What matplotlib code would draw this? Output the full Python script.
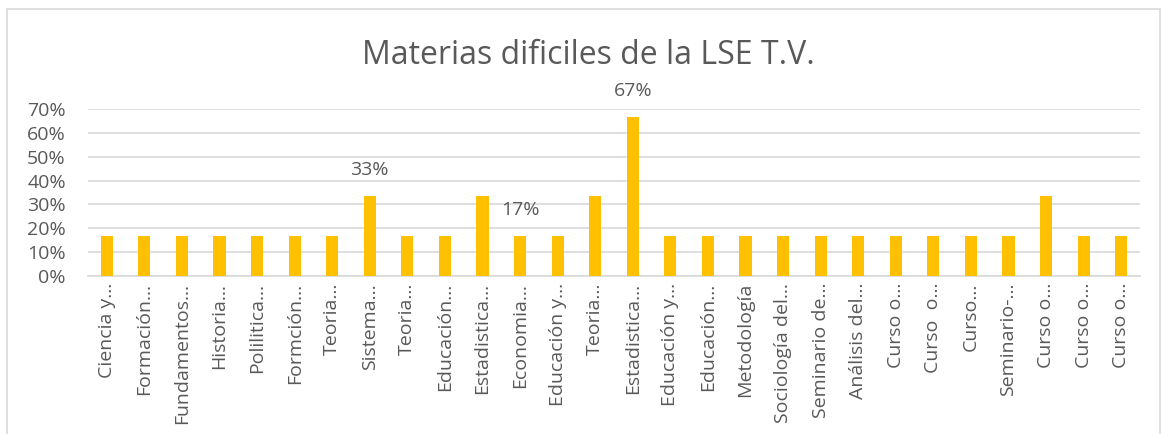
import matplotlib
matplotlib.use("Agg")
import matplotlib.pyplot as plt
from matplotlib.patches import Rectangle
from matplotlib.ticker import PercentFormatter

categories = ["Ciencia y…", "Formación…", "Fundamentos…", "Historia…", "Polilitica…",
              "Formción…", "Teoria…", "Sistema…", "Teoria…", "Educación…",
              "Estadistica…", "Economia…", "Educación y…", "Teoria…", "Estadistica…",
              "Educación y…", "Educación…", "Metodología", "Sociología del…", "Seminario de…",
              "Análisis del…", "Curso o…", "Curso  o…", "Curso…", "Seminario-…",
              "Curso o…", "Curso o…", "Curso o…"]
values = [16.67, 16.67, 16.67, 16.67, 16.67, 16.67, 16.67, 33.33, 16.67, 16.67,
          33.33, 16.67, 16.67, 33.33, 66.67, 16.67, 16.67, 16.67, 16.67, 16.67,
          16.67, 16.67, 16.67, 16.67, 16.67, 33.33, 16.67, 16.67]
labeled = [7, 11, 14]
title = "Materias dificiles de la LSE T.V."

plt.rcParams['font.family'] = ['Open Sans', 'DejaVu Sans']
gray = '#595959'

fig = plt.figure(figsize=(11.61, 4.34), dpi=100)
fig.patches.append(Rectangle((7/1161, -0.05), (1160-7)/1161, 1 - 9/434 + 0.05,
                             transform=fig.transFigure, fill=False,
                             edgecolor='#d9d9d9', linewidth=1.2))
ax = fig.add_axes([88/1161, 1 - 276/434, (1140 - 88)/1161, (276 - 109)/434])

x = list(range(len(categories)))
ax.bar(x, values, width=0.32, color='#FFC000', zorder=3)
ax.set_xlim(-0.5, len(categories) - 0.5)
ax.set_ylim(0, 70)
ax.set_yticks(range(0, 71, 10))
ax.yaxis.set_major_formatter(PercentFormatter(decimals=0))
ax.grid(axis='y', color='#d9d9d9', linewidth=1.2, zorder=0)
for s in ['top', 'right', 'left']:
    ax.spines[s].set_visible(False)
ax.spines['bottom'].set_color('#d9d9d9')
ax.spines['bottom'].set_linewidth(1.2)
ax.tick_params(axis='both', length=0, labelsize=14, labelcolor=gray)
ax.tick_params(axis='y', pad=16)
ax.set_xticks(x)
ax.set_xticklabels(categories, rotation=90, fontsize=14, color=gray)
ax.tick_params(axis='x', pad=5)

for i in labeled:
    ax.annotate(f"{values[i]:.0f}%", (i, values[i]), xytext=(0, 19),
                textcoords='offset points', ha='center', va='center',
                fontsize=14, color=gray)

fig.text(588/1161, 1 - 56/434, title, ha='center', va='center', fontsize=23, color=gray)

fig.savefig('out.png', dpi=100)
